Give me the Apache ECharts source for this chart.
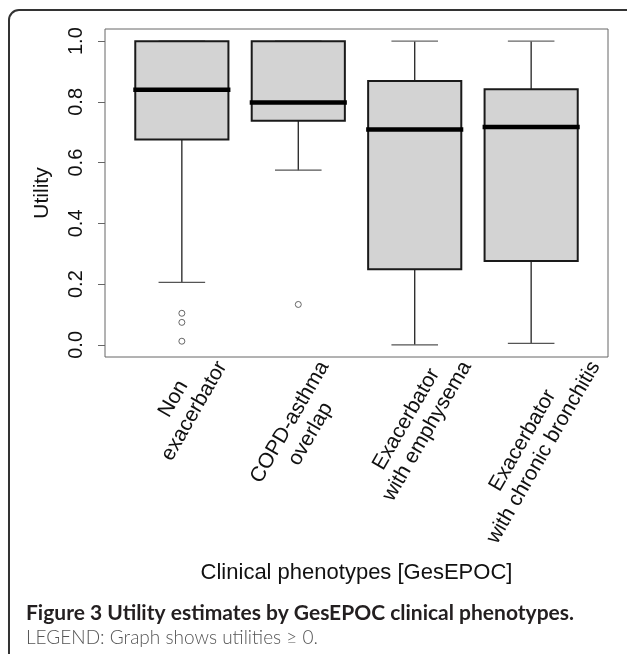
<!DOCTYPE html>
<html>
<head>
<meta charset="utf-8">
<script src="https://cdn.jsdelivr.net/npm/echarts@6/dist/echarts.min.js"></script>
<style>
html,body{margin:0;padding:0;background:#fff;}
#chart{width:627px;height:654px;}
</style>
</head>
<body>
<div id="chart"></div>
<script>
// ---- data ----
const categories = ['Non\nexacerbator', 'COPD-asthma\noverlap', 'Exacerbator\nwith emphysema', 'Exacerbator\nwith chronic bronchitis'];
const positions = [1, 2, 3, 4];
const whiskerLow = [0.206, 0.575, 0.0, 0.005];
const q1 = [0.676, 0.738, 0.249, 0.276];
const median = [0.840, 0.798, 0.709, 0.717];
const q3 = [1.0, 1.0, 0.869, 0.842];
const whiskerHigh = [1.0, 1.0, 1.0, 1.0];
const outlierX = [1, 1, 1, 2];
const outlierY = [0.104, 0.074, 0.012, 0.133];
const yTicks = [0, 0.2, 0.4, 0.6, 0.8, 1.0];
const yTitle = 'Utility';
const xTitle = 'Clinical phenotypes [GesEPOC]';
const captionTitle = 'Figure 3 Utility estimates by GesEPOC clinical phenotypes.';
const captionSub = 'LEGEND: Graph shows utilities \u2265 0.';

const Y_MIN = -0.04, Y_MAX = 1.04;
const PLOT_FONT = '"Liberation Sans", Arial, Helvetica, sans-serif';
const LABEL_SIZE = 21;
const LINE_H = 24;

const measureCtx = document.createElement('canvas').getContext('2d');
function textWidth(s, size) {
  measureCtx.font = size + 'px ' + PLOT_FONT;
  return measureCtx.measureText(s).width;
}

const chart = echarts.init(document.getElementById('chart'), null, {renderer: 'canvas'});

const boxData = positions.map((p, i) => [p, whiskerLow[i], q1[i], median[i], q3[i], whiskerHigh[i]]);
const outlierData = outlierX.map((x, i) => [x, outlierY[i]]);
const labelData = positions.map((p, i) => [p, Y_MIN, i]);

function renderBox(params, api) {
  const x = api.value(0);
  const pLow = api.coord([x, api.value(1)]);
  const pQ1 = api.coord([x, api.value(2)]);
  const pMed = api.coord([x, api.value(3)]);
  const pQ3 = api.coord([x, api.value(4)]);
  const pHigh = api.coord([x, api.value(5)]);
  const halfW = api.size([0.8, 0])[0] / 2;
  const capHalf = halfW / 2;
  const cx = pMed[0];
  const lineStyle = {stroke: '#222', lineWidth: 1.3};
  return {
    type: 'group',
    children: [
      {type: 'line', shape: {x1: cx, y1: pLow[1], x2: cx, y2: pQ1[1]}, style: lineStyle},
      {type: 'line', shape: {x1: cx, y1: pQ3[1], x2: cx, y2: pHigh[1]}, style: lineStyle},
      {type: 'line', shape: {x1: cx - capHalf, y1: pLow[1], x2: cx + capHalf, y2: pLow[1]}, style: {stroke: '#555', lineWidth: 1.3}},
      {type: 'line', shape: {x1: cx - capHalf, y1: pHigh[1], x2: cx + capHalf, y2: pHigh[1]}, style: {stroke: '#666', lineWidth: 1.3}},
      {type: 'rect', shape: {x: cx - halfW, y: pQ3[1], width: halfW * 2, height: pQ1[1] - pQ3[1]},
        style: {fill: '#d3d3d3', stroke: '#1a1a1a', lineWidth: 2}},
      {type: 'line', shape: {x1: cx - halfW - 2, y1: pMed[1], x2: cx + halfW + 2, y2: pMed[1]},
        style: {stroke: '#000', lineWidth: 4.5}}
    ]
  };
}

function renderLabel(params, api) {
  const x = api.value(0);
  const idx = api.value(2);
  const base = api.coord([x, Y_MIN]);
  const text = categories[idx];
  const lines = text.split('\n');
  const H = lines.length * LINE_H;
  const th = Math.PI / 3;
  let top = Infinity;
  lines.forEach((ln, i) => {
    const w = textWidth(ln, LABEL_SIZE);
    const lx = w / 2;
    const ly = -H / 2 + i * LINE_H + 4;
    const sy = -lx * Math.sin(th) + ly * Math.cos(th);
    if (sy < top) top = sy;
  });
  const cy = base[1] + 2 - top;
  return {
    type: 'text',
    x: base[0] + 2,
    y: cy,
    rotation: th,
    style: {
      text: text,
      font: LABEL_SIZE + 'px ' + PLOT_FONT,
      fill: '#111',
      align: 'center',
      verticalAlign: 'middle',
      lineHeight: LINE_H
    }
  };
}

const option = {
  animation: false,
  backgroundColor: '#fff',
  title: {
    text: captionTitle,
    subtext: captionSub,
    left: 21,
    top: 598,
    itemGap: 4,
    textStyle: {fontFamily: 'Lato, "Open Sans", sans-serif', fontWeight: 'bold', fontSize: 21, color: '#231f20'},
    subtextStyle: {fontFamily: 'Lato, "Open Sans", sans-serif', fontWeight: 300, fontSize: 19, color: '#555'}
  },
  graphic: [{
    type: 'rect',
    shape: {x: 9, y: 10, width: 700, height: 700, r: 10},
    style: {fill: 'none', stroke: '#333', lineWidth: 2},
    silent: true,
    z: 100
  }],
  grid: {
    left: 105, top: 29, width: 503, height: 328,
    show: true, borderColor: '#666', borderWidth: 1, backgroundColor: 'transparent'
  },
  xAxis: {
    type: 'value', min: 0.34, max: 4.66,
    name: xTitle, nameLocation: 'middle', nameGap: 205,
    nameTextStyle: {fontFamily: PLOT_FONT, fontSize: 22, color: '#111'},
    axisLine: {show: false}, axisTick: {show: false}, axisLabel: {show: false}, splitLine: {show: false}
  },
  yAxis: {
    type: 'value', min: Y_MIN, max: Y_MAX,
    name: yTitle, nameLocation: 'middle', nameGap: 52, nameRotate: 90,
    nameTextStyle: {fontFamily: PLOT_FONT, fontSize: 21, color: '#111'},
    axisLine: {show: false},
    splitLine: {show: false},
    axisTick: {show: true, customValues: yTicks, length: 7, lineStyle: {color: '#666', width: 1}},
    axisLabel: {
      customValues: yTicks, rotate: 90, margin: 19,
      formatter: v => Number(v).toFixed(1),
      fontFamily: PLOT_FONT, fontSize: 20, color: '#111'
    }
  },
  series: [
    {
      type: 'custom', name: 'boxes', renderItem: renderBox, data: boxData,
      encode: {x: 0, y: [1, 2, 3, 4, 5]}, silent: true, z: 2
    },
    {
      type: 'scatter', name: 'outliers', data: outlierData, symbol: 'circle', symbolSize: 6,
      itemStyle: {color: 'rgba(0,0,0,0)', borderColor: '#444', borderWidth: 1}, silent: true, z: 3
    },
    {
      type: 'custom', name: 'labels', renderItem: renderLabel, data: labelData,
      encode: {x: 0, y: 1}, clip: false, silent: true, z: 4
    }
  ]
};
chart.setOption(option);
</script>
</body>
</html>
